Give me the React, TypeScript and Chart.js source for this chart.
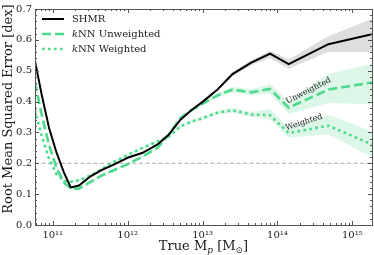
import React, { useEffect, useRef } from "react";
import { Chart, registerables } from "chart.js";

Chart.register(...registerables);

// ---- data (log10 of true halo mass) ----
const logMass = [10.763, 10.85, 10.95, 11.05, 11.15, 11.24, 11.35, 11.5, 11.65, 11.8, 12.0, 12.2, 12.4, 12.55, 12.7, 12.85, 13.0, 13.2, 13.4, 13.65, 13.9, 14.15, 14.68, 15.262];

const shmr = [0.532, 0.425, 0.315, 0.235, 0.17, 0.122, 0.128, 0.157, 0.178, 0.194, 0.218, 0.234, 0.261, 0.293, 0.34, 0.372, 0.399, 0.439, 0.489, 0.526, 0.555, 0.521, 0.586, 0.618];
const shmrLo = [0.529, 0.422, 0.312, 0.232, 0.167, 0.119, 0.125, 0.154, 0.175, 0.191, 0.215, 0.231, 0.258, 0.29, 0.337, 0.369, 0.396, 0.435, 0.482, 0.518, 0.54, 0.506, 0.561, 0.561];
const shmrHi = [0.535, 0.428, 0.318, 0.238, 0.173, 0.125, 0.131, 0.16, 0.181, 0.197, 0.221, 0.237, 0.264, 0.296, 0.343, 0.375, 0.402, 0.443, 0.496, 0.534, 0.565, 0.537, 0.612, 0.668];

const unweighted = [0.462, 0.36, 0.26, 0.185, 0.138, 0.118, 0.118, 0.139, 0.16, 0.176, 0.197, 0.222, 0.25, 0.293, 0.346, 0.372, 0.393, 0.42, 0.439, 0.43, 0.441, 0.38, 0.439, 0.462];
const unweightedLo = [0.458, 0.356, 0.256, 0.181, 0.134, 0.114, 0.114, 0.135, 0.156, 0.172, 0.193, 0.218, 0.246, 0.289, 0.342, 0.367, 0.387, 0.412, 0.43, 0.42, 0.425, 0.36, 0.395, 0.391];
const unweightedHi = [0.466, 0.364, 0.264, 0.189, 0.142, 0.122, 0.122, 0.143, 0.164, 0.18, 0.201, 0.226, 0.254, 0.297, 0.35, 0.377, 0.399, 0.428, 0.448, 0.44, 0.458, 0.4, 0.49, 0.522];

const weighted = [0.372, 0.29, 0.215, 0.165, 0.143, 0.14, 0.145, 0.16, 0.181, 0.203, 0.227, 0.25, 0.271, 0.287, 0.319, 0.335, 0.346, 0.364, 0.372, 0.358, 0.356, 0.298, 0.322, 0.261];
const weightedLo = [0.368, 0.286, 0.211, 0.161, 0.139, 0.136, 0.141, 0.156, 0.177, 0.199, 0.223, 0.246, 0.267, 0.283, 0.315, 0.33, 0.34, 0.358, 0.364, 0.35, 0.341, 0.283, 0.294, 0.22];
const weightedHi = [0.376, 0.294, 0.219, 0.169, 0.147, 0.144, 0.149, 0.164, 0.185, 0.207, 0.231, 0.254, 0.275, 0.291, 0.323, 0.34, 0.352, 0.37, 0.38, 0.366, 0.376, 0.315, 0.357, 0.304];

const refLevel = 0.2;

const xTickValues = [1e11, 1e12, 1e13, 1e14, 1e15];
const xTickLabels = ["10\u00B9\u00B9", "10\u00B9\u00B2", "10\u00B9\u00B3", "10\u00B9\u2074", "10\u00B9\u2075"];
const yTickValues = [0, 0.1, 0.2, 0.3, 0.4, 0.5, 0.6, 0.7];
const yTickLabels = ["0.0", "0.1", "0.2", "0.3", "0.4", "0.5", "0.6", "0.7"];

const X_MIN_LOG = 10.763;
const X_MAX_LOG = 15.262;

const GREEN = "#4fd98c";
const GREEN_BAND = "rgba(79,217,140,0.2)";
const GRAY_BAND = "rgba(0,0,0,0.13)";
const FONT = '"DejaVu Serif", "DejaVu Sans", serif';
const AXIS_COLOR = "#555";
const TEXT_COLOR = "#1a1a1a";

const pts = (arr: number[]) => arr.map((y, i) => ({ x: Math.pow(10, logMass[i]), y }));

const decorPlugin = {
  id: "decor",
  afterDatasetsDraw(chart: any) {
    const { ctx, chartArea: a, scales } = chart;
    const xs = scales.x;
    const ys = scales.y;
    ctx.save();

    // in-plot annotations
    const annotate = (text: string, lx: number, vy: number, deg: number) => {
      const px = xs.getPixelForValue(Math.pow(10, lx));
      const py = ys.getPixelForValue(vy);
      ctx.save();
      ctx.translate(px, py);
      ctx.rotate((deg * Math.PI) / 180);
      ctx.font = `8px ${FONT}`;
      ctx.fillStyle = TEXT_COLOR;
      ctx.textAlign = "center";
      ctx.textBaseline = "middle";
      ctx.fillText(text, 0, 0);
      ctx.restore();
    };
    annotate("Unweighted", 14.414, 0.435, -27);
    annotate("Weighted", 14.356, 0.333, -18);

    // frame
    ctx.strokeStyle = AXIS_COLOR;
    ctx.lineWidth = 1;
    ctx.setLineDash([]);
    ctx.strokeRect(Math.round(a.left) + 0.5, Math.round(a.top) + 0.5, Math.round(a.right) - Math.round(a.left), Math.round(a.bottom) - Math.round(a.top));

    // ticks (inward, all four sides)
    const MAJ = 4, MIN = 2;
    ctx.beginPath();
    for (let e = 10; e <= 15; e++) {
      for (let k = 1; k <= 9; k++) {
        const v = k * Math.pow(10, e);
        const lv = Math.log10(v);
        if (lv < X_MIN_LOG + 0.001 || lv > X_MAX_LOG - 0.001) continue;
        const len = k === 1 ? MAJ : MIN;
        const x = Math.round(xs.getPixelForValue(v)) + 0.5;
        ctx.moveTo(x, a.bottom);
        ctx.lineTo(x, a.bottom - len);
        ctx.moveTo(x, a.top);
        ctx.lineTo(x, a.top + len);
      }
    }
    for (let i = 0; i <= 35; i++) {
      const v = i * 0.02;
      const len = i % 5 === 0 ? MAJ : MIN;
      const y = Math.round(ys.getPixelForValue(v)) + 0.5;
      ctx.moveTo(a.left, y);
      ctx.lineTo(a.left + len, y);
      ctx.moveTo(a.right, y);
      ctx.lineTo(a.right - len, y);
    }
    ctx.stroke();
    ctx.restore();
  },
  afterDraw(chart: any) {
    const { ctx, chartArea: a, data } = chart;
    ctx.save();

    // legend
    const items = [
      { idx: 0, parts: [{ t: "SHMR", it: false }] },
      { idx: 1, parts: [{ t: "k", it: true }, { t: "NN Unweighted", it: false }] },
      { idx: 2, parts: [{ t: "k", it: true }, { t: "NN Weighted", it: false }] },
    ];
    const rowY = [19, 34, 49];
    items.forEach((item, r) => {
      const ds: any = data.datasets[item.idx];
      const y = rowY[r];
      ctx.beginPath();
      ctx.strokeStyle = ds.borderColor;
      ctx.lineWidth = ds.borderWidth;
      ctx.setLineDash(ds.borderDash || []);
      ctx.moveTo(42, y);
      ctx.lineTo(64, y);
      ctx.stroke();
      ctx.setLineDash([]);
      let x = 72;
      ctx.fillStyle = TEXT_COLOR;
      ctx.textBaseline = "middle";
      ctx.textAlign = "left";
      item.parts.forEach((p) => {
        ctx.font = `${p.it ? "italic " : ""}10px ${FONT}`;
        ctx.fillText(p.t, x, y);
        x += ctx.measureText(p.t).width;
      });
    });

    // y axis title
    ctx.save();
    ctx.translate(8.5, 109);
    ctx.rotate(-Math.PI / 2);
    ctx.font = `13px ${FONT}`;
    ctx.fillStyle = TEXT_COLOR;
    ctx.textAlign = "center";
    ctx.textBaseline = "middle";
    ctx.fillText("Root Mean Squared Error [dex]", 0, 0);
    ctx.restore();

    // x axis title: True M_p [M_sun]
    const parts = [
      { t: "True M", f: `13px ${FONT}`, dy: 0 },
      { t: "p", f: `italic 9px ${FONT}`, dy: 3 },
      { t: " [M", f: `13px ${FONT}`, dy: 0 },
      { t: "\u2299", f: `9px ${FONT}`, dy: 3 },
      { t: "]", f: `13px ${FONT}`, dy: 0 },
    ];
    let total = 0;
    parts.forEach((p) => {
      ctx.font = p.f;
      total += ctx.measureText(p.t).width;
    });
    let x = (a.left + a.right) / 2 - total / 2;
    const base = 249.5;
    ctx.fillStyle = TEXT_COLOR;
    ctx.textAlign = "left";
    ctx.textBaseline = "alphabetic";
    parts.forEach((p) => {
      ctx.font = p.f;
      ctx.fillText(p.t, x, base + p.dy);
      x += ctx.measureText(p.t).width;
    });
    ctx.restore();
  },
};

export default function App() {
  const ref = useRef<HTMLCanvasElement | null>(null);

  useEffect(() => {
    document.body.style.margin = "0";
    const canvas = ref.current;
    if (!canvas) return;
    const XMIN = Math.pow(10, X_MIN_LOG);
    const XMAX = Math.pow(10, X_MAX_LOG);
    const none = "rgba(0,0,0,0)";
    const base = { pointRadius: 0, tension: 0, borderCapStyle: "butt" as const };

    const chart = new Chart(canvas, {
      type: "line",
      data: {
        datasets: [
          { ...base, label: "SHMR", data: pts(shmr), borderColor: "#000", borderWidth: 2, fill: false, order: 1 },
          { ...base, label: "kNN Unweighted", data: pts(unweighted), borderColor: GREEN, borderWidth: 2.6, borderDash: [9, 4], fill: false, order: 2 },
          { ...base, label: "kNN Weighted", data: pts(weighted), borderColor: GREEN, borderWidth: 2.6, borderDash: [2.6, 3.4], fill: false, order: 3 },
          { ...base, label: "shmr lo", data: pts(shmrLo), borderColor: none, borderWidth: 0, fill: false, order: 10 },
          { ...base, label: "shmr hi", data: pts(shmrHi), borderColor: none, borderWidth: 0, fill: "-1", backgroundColor: GRAY_BAND, order: 10 },
          { ...base, label: "unw lo", data: pts(unweightedLo), borderColor: none, borderWidth: 0, fill: false, order: 10 },
          { ...base, label: "unw hi", data: pts(unweightedHi), borderColor: none, borderWidth: 0, fill: "-1", backgroundColor: GREEN_BAND, order: 10 },
          { ...base, label: "w lo", data: pts(weightedLo), borderColor: none, borderWidth: 0, fill: false, order: 10 },
          { ...base, label: "w hi", data: pts(weightedHi), borderColor: none, borderWidth: 0, fill: "-1", backgroundColor: GREEN_BAND, order: 10 },
          { ...base, label: "ref", data: [{ x: XMIN, y: refLevel }, { x: XMAX, y: refLevel }], borderColor: "#aaaaaa", borderWidth: 1, borderDash: [4, 2.5], fill: false, order: 8 },
        ],
      },
      options: {
        responsive: false,
        animation: false,
        events: [],
        layout: { padding: { top: 5, right: 2, left: 0, bottom: 0 } },
        plugins: { legend: { display: false }, tooltip: { enabled: false } },
        scales: {
          x: {
            type: "logarithmic",
            min: XMIN,
            max: XMAX,
            grid: { display: false, drawTicks: false },
            border: { display: false },
            afterBuildTicks: (s: any) => {
              s.ticks = xTickValues.map((v) => ({ value: v, major: true }));
            },
            afterFit: (s: any) => {
              s.height = 30;
            },
            ticks: {
              autoSkip: false,
              maxRotation: 0,
              minRotation: 0,
              padding: 4,
              color: TEXT_COLOR,
              font: { family: FONT, size: 10 },
              callback: (_v: any, i: number) => xTickLabels[i],
            },
          },
          y: {
            min: 0,
            max: 0.7,
            grid: { display: false, drawTicks: false },
            border: { display: false },
            afterBuildTicks: (s: any) => {
              s.ticks = yTickValues.map((v) => ({ value: v }));
            },
            afterFit: (s: any) => {
              s.width = 35;
            },
            ticks: {
              padding: 3,
              color: TEXT_COLOR,
              font: { family: FONT, size: 10 },
              callback: (_v: any, i: number) => yTickLabels[i],
            },
          },
        },
      },
      plugins: [decorPlugin],
    } as any);

    return () => chart.destroy();
  }, []);

  return <canvas ref={ref} width={374} height={255} style={{ display: "block", width: 374, height: 255 }} />;
}
